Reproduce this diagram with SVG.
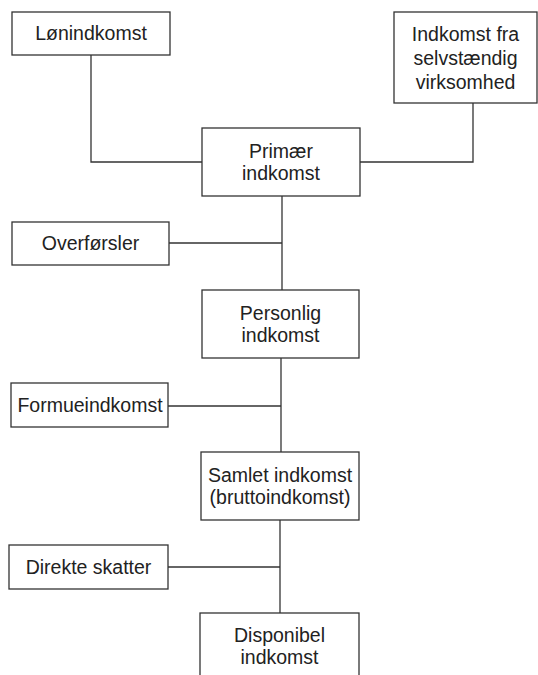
<svg xmlns="http://www.w3.org/2000/svg" width="538" height="675" viewBox="0 0 538 675">
<style>
.box{fill:#fff;stroke:#333;stroke-width:1.3}
.ln{fill:none;stroke:#333;stroke-width:1.3}
text{font-family:"Liberation Sans",Arial,sans-serif;font-size:19.5px;fill:#222;text-anchor:middle}
</style>
<rect width="538" height="675" fill="#fff"/>
<g id="connectors">
<polyline class="ln" points="91,55 91,162 202,162"/>
<polyline class="ln" points="473,103 473,162 360,162"/>
<line class="ln" x1="282" y1="196" x2="282" y2="290"/>
<line class="ln" x1="169" y1="243" x2="282" y2="243"/>
<line class="ln" x1="281" y1="358" x2="281" y2="452"/>
<line class="ln" x1="168" y1="406" x2="281" y2="406"/>
<line class="ln" x1="280" y1="520" x2="280" y2="613"/>
<line class="ln" x1="168" y1="567" x2="280" y2="567"/>
</g>
<g id="lonindkomst">
<rect class="box" x="12" y="12" width="158" height="43"/>
<text x="91" y="40">Lønindkomst</text>
</g>
<g id="selvstaendig">
<rect class="box" x="394" y="12" width="143" height="91"/>
<text x="465.5" y="41">Indkomst fra</text>
<text x="465.5" y="65">selvstændig</text>
<text x="465.5" y="89">virksomhed</text>
</g>
<g id="primaer">
<rect class="box" x="202" y="128" width="158" height="68"/>
<text x="281" y="158">Primær</text>
<text x="281" y="180">indkomst</text>
</g>
<g id="overforsler">
<rect class="box" x="12" y="222" width="157" height="43"/>
<text x="90.5" y="250">Overførsler</text>
</g>
<g id="personlig">
<rect class="box" x="202" y="290" width="157" height="68"/>
<text x="280.5" y="320">Personlig</text>
<text x="280.5" y="342">indkomst</text>
</g>
<g id="formueindkomst">
<rect class="box" x="11" y="383" width="157" height="44"/>
<text x="90" y="412">Formueindkomst</text>
</g>
<g id="samlet">
<rect class="box" x="201" y="452" width="158" height="68"/>
<text x="280" y="482">Samlet indkomst</text>
<text x="280" y="504">(bruttoindkomst)</text>
</g>
<g id="direkte">
<rect class="box" x="9" y="545" width="159" height="44"/>
<text x="88.5" y="574">Direkte skatter</text>
</g>
<g id="disponibel">
<rect class="box" x="200" y="613" width="159" height="80"/>
<text x="279.5" y="642">Disponibel</text>
<text x="279.5" y="664">indkomst</text>
</g>
</svg>
